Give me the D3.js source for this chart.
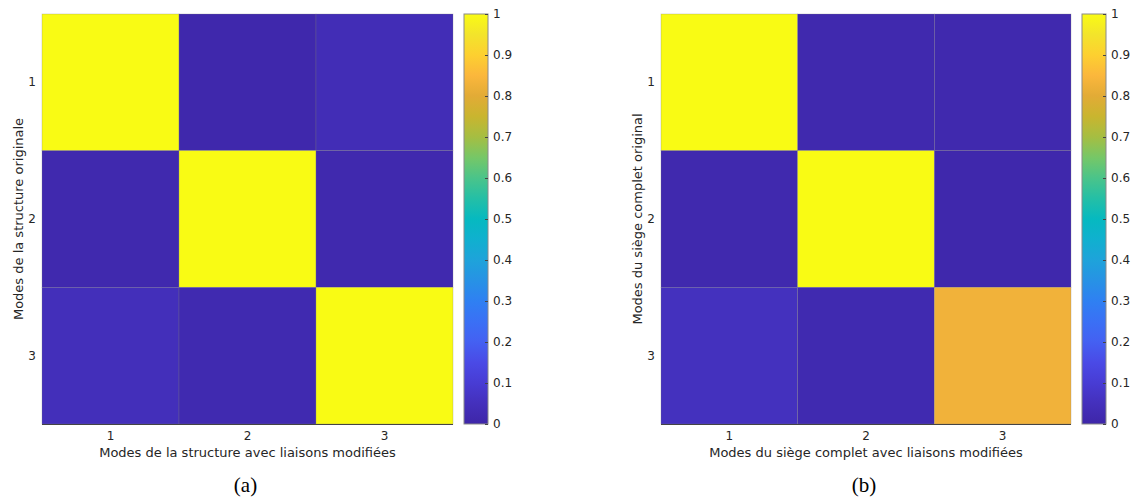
<!DOCTYPE html>
<html>
<head>
<meta charset="utf-8">
<script src="https://cdn.jsdelivr.net/npm/d3@7"></script>
<style>
  html, body { margin: 0; padding: 0; background: #fff; }
  svg { display: block; }
  text { font-family: "DejaVu Sans", sans-serif; fill: #262626; }
</style>
</head>
<body>
<svg id="chart" width="1134" height="497"></svg>
<script>
// ---- data ----
const modes = ["1", "2", "3"];
const matrixA = [
  [1.00, 0.01, 0.035],
  [0.015, 1.00, 0.015],
  [0.045, 0.02, 1.00]
];
const matrixB = [
  [1.00, 0.015, 0.015],
  [0.015, 1.00, 0.01],
  [0.055, 0.02, 0.83]
];
const colorbarTicks = [0, 0.1, 0.2, 0.3, 0.4, 0.5, 0.6, 0.7, 0.8, 0.9, 1];
const yLabels = ["Modes de la structure originale", "Modes du siège complet original"];
const xLabels = ["Modes de la structure avec liaisons modifiées", "Modes du siège complet avec liaisons modifiées"];
const captions = ["(a)", "(b)"];

// parula-like colormap stops
const cmapStops = [0, 0.05, 0.1, 0.15, 0.2, 0.25, 0.3, 0.35, 0.4, 0.45, 0.5,
                   0.55, 0.6, 0.65, 0.7, 0.75, 0.8, 0.85, 0.9, 0.95, 1];
const cmapColors = ["#3e26a8", "#4430bc", "#483cd4", "#4a4ae6", "#4460f2", "#3a70f5",
                    "#2f80f2", "#2792e5", "#1ea3da", "#10b0cf", "#06b9c0",
                    "#24bfa6", "#4ac48a", "#76c767", "#a5be42", "#c9b52f",
                    "#e2ab36", "#fbb73c", "#fdd030", "#f3e42b", "#f9fb14"];
const color = d3.scaleLinear().domain(cmapStops).range(cmapColors).interpolate(d3.interpolateRgb);

const svg = d3.select("#chart");
const defs = svg.append("defs");
const grad = defs.append("linearGradient").attr("id", "cbgrad")
  .attr("x1", 0).attr("y1", 1).attr("x2", 0).attr("y2", 0);
cmapStops.forEach((s, i) => grad.append("stop").attr("offset", s).attr("stop-color", cmapColors[i]));

const panels = [
  { m: matrixA, x0: 42, x1: 453, cb: 464 },
  { m: matrixB, x0: 661, x1: 1071, cb: 1082 }
];
const y0 = 14, y1 = 424, cbW = 24;

panels.forEach((p, pi) => {
  const g = svg.append("g");
  const x = d3.scaleBand().domain(modes).range([p.x0, p.x1]);
  const y = d3.scaleBand().domain(modes).range([y0, y1]);
  const cells = [];
  p.m.forEach((row, r) => row.forEach((v, c) => cells.push({ r: modes[r], c: modes[c], v })));
  g.selectAll("rect.cell").data(cells).join("rect")
    .attr("class", "cell")
    .attr("x", d => x(d.c)).attr("y", d => y(d.r))
    .attr("width", x.bandwidth()).attr("height", y.bandwidth())
    .attr("fill", d => color(d.v))
    .attr("stroke", "#808080").attr("stroke-opacity", 0.4).attr("stroke-width", 0.7);

  // bottom edge
  g.append("line").attr("x1", p.x0).attr("x2", p.x1).attr("y1", y1 + 0.5).attr("y2", y1 + 0.5)
    .attr("stroke", "#444").attr("stroke-width", 1);

  // axes
  const ax = g.append("g").attr("transform", `translate(0,${y1})`)
    .call(d3.axisBottom(x).tickSize(0).tickPadding(7));
  ax.select(".domain").remove();
  ax.selectAll("text").attr("font-size", 12).attr("font-family", "DejaVu Sans").attr("fill", "#262626");

  const ay = g.append("g").attr("transform", `translate(${p.x0},0)`)
    .call(d3.axisLeft(y).tickSize(0).tickPadding(6));
  ay.select(".domain").remove();
  ay.selectAll("text").attr("font-size", 12).attr("font-family", "DejaVu Sans").attr("fill", "#262626");

  // labels
  g.append("text").attr("x", (p.x0 + p.x1) / 2).attr("y", 457)
    .attr("text-anchor", "middle").attr("font-size", 13).text(xLabels[pi]);
  g.append("text")
    .attr("transform", `translate(${p.x0 - 19},${(y0 + y1) / 2}) rotate(-90)`)
    .attr("text-anchor", "middle").attr("font-size", 13).text(yLabels[pi]);
  g.append("text").attr("x", (p.x0 + p.x1) / 2 - 2).attr("y", 492)
    .attr("text-anchor", "middle").attr("font-size", 21)
    .style("font-family", "'Liberation Serif', 'Times New Roman', serif")
    .style("fill", "#000").text(captions[pi]);

  // colorbar
  const cbScale = d3.scaleLinear().domain([0, 1]).range([y1, y0]);
  g.append("rect").attr("x", p.cb).attr("y", y0).attr("width", cbW).attr("height", y1 - y0)
    .attr("fill", "url(#cbgrad)").attr("stroke", "#8a8a8a").attr("stroke-width", 1);
  const acb = g.append("g").attr("transform", `translate(${p.cb + cbW},0)`)
    .call(d3.axisRight(cbScale).tickValues(colorbarTicks).tickFormat(d3.format("~g"))
      .tickSizeInner(-3).tickSizeOuter(0).tickPadding(5));
  acb.select(".domain").remove();
  acb.selectAll("line").attr("stroke", "#444");
  acb.selectAll("text").attr("font-size", 12).attr("font-family", "DejaVu Sans").attr("fill", "#262626");
});
</script>
</body>
</html>
